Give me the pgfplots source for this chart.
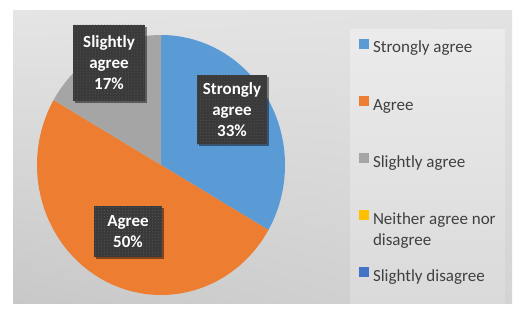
\documentclass[border=0pt]{standalone}
\usepackage{pgfplots}
\pgfplotsset{compat=1.18}
\usepackage{pgfplotstable}
\usepackage{fontspec}
\setmainfont{Carlito}
\usetikzlibrary{shadows,patterns,shadings}
\definecolor{pieblue}{HTML}{5B9BD5}
\definecolor{pieorange}{HTML}{ED7D31}
\definecolor{piegray}{HTML}{A5A5A5}
\definecolor{pieyellow}{HTML}{FFC000}
\definecolor{piedblue}{HTML}{4472C4}
\definecolor{boxfill}{HTML}{3A3A3A}
\definecolor{boxdots}{HTML}{575757}
\definecolor{legtext}{HTML}{404040}
\definecolor{bgUL}{HTML}{E5E5E5}
\definecolor{bgUR}{HTML}{E2E2E2}
\definecolor{bgLL}{HTML}{C8C8C8}
\definecolor{bgLR}{HTML}{D4D4D4}
\definecolor{legT}{HTML}{EBEBEB}
\definecolor{legB}{HTML}{DADADA}

\pgfplotstableread[col sep=comma]{
category,percent
Strongly agree,33.33
Agree,50.00
Slightly agree,16.67
Neither agree nor disagree,0
Slightly disagree,0
}\piedata

\begin{document}
\begin{tikzpicture}[x=1bp, y=1bp,
  labelbox/.style={fill=boxfill, text=white, align=center, inner sep=0pt,
    font=\fontsize{17bp}{21bp}\selectfont\bfseries,
    drop shadow={shadow xshift=2bp, shadow yshift=-2bp, opacity=0.45, fill=black},
    postaction={pattern=dots, pattern color=boxdots}}]
\pgfplotstablegetelem{0}{percent}\of\piedata\let\pA\pgfplotsretval
\pgfplotstablegetelem{1}{percent}\of\piedata\let\pB\pgfplotsretval
\pgfplotstablegetelem{2}{percent}\of\piedata\let\pC\pgfplotsretval
\pgfmathsetmacro\aZ{90}%
\pgfmathsetmacro\aA{\aZ-3.6*\pA}%
\pgfmathsetmacro\aB{\aA-3.6*\pB}%
\pgfmathsetmacro\aC{\aB-3.6*\pC}%
% page and chart area backgrounds
\fill[white] (0,0) rectangle (524,315);
\shade[upper left=bgUL, upper right=bgUR, lower left=bgLL, lower right=bgLR]
  (13,12) rectangle (512,304);
\shade[top color=legT, bottom color=legB]
  (350,12) rectangle (505,286);
\begin{axis}[
  at={(0,0)}, anchor=south west,
  width=524bp, height=315bp, scale only axis,
  xmin=0, xmax=524, ymin=0, ymax=315,
  hide axis, clip=false,
  legend style={at={(axis cs:359,276)}, anchor=north west, draw=none, fill=none,
    inner sep=0pt, outer sep=0pt, row sep=39bp, column sep=4bp,
    font=\fontsize{17bp}{21bp}\selectfont, text=legtext,
    nodes={inner sep=0pt, outer sep=0pt, text height=12bp, text depth=4bp}},
  legend cell align=left,
  legend image code/.code={\fill[#1, draw=none] (0bp,0bp) rectangle (10bp,10bp);},
]
% pie slices
\addplot[fill=pieblue, draw=none, domain=\aA:\aZ, samples=90, variable=\t]
  ({161+124*cos(\t)},{150+130*sin(\t)}) -- (161,150) -- cycle;
\addlegendentry{Strongly agree}
\addplot[fill=pieorange, draw=none, domain=\aB:\aA, samples=120, variable=\t]
  ({161+124*cos(\t)},{150+130*sin(\t)}) -- (161,150) -- cycle;
\addlegendentry{Agree}
\addplot[fill=piegray, draw=none, domain=\aC:\aB, samples=60, variable=\t]
  ({161+124*cos(\t)},{150+130*sin(\t)}) -- (161,150) -- cycle;
\addlegendentry{Slightly agree}
\addlegendimage{fill=pieyellow}
\addlegendentry{\parbox[t]{128bp}{\raggedright Neither agree nor\\disagree}}
\addlegendimage{fill=piedblue}
\addlegendentry{Slightly disagree}
\end{axis}
% data labels
\node[labelbox, minimum width=72bp, minimum height=76bp] at (109,252) {Slightly\\agree\\17\%};
\node[labelbox, minimum width=70bp, minimum height=69bp] at (232,205.5) {Strongly\\agree\\33\%};
\node[labelbox, minimum width=68bp, minimum height=51bp] at (128,83.5) {Agree\\50\%};
\end{tikzpicture}
\end{document}
